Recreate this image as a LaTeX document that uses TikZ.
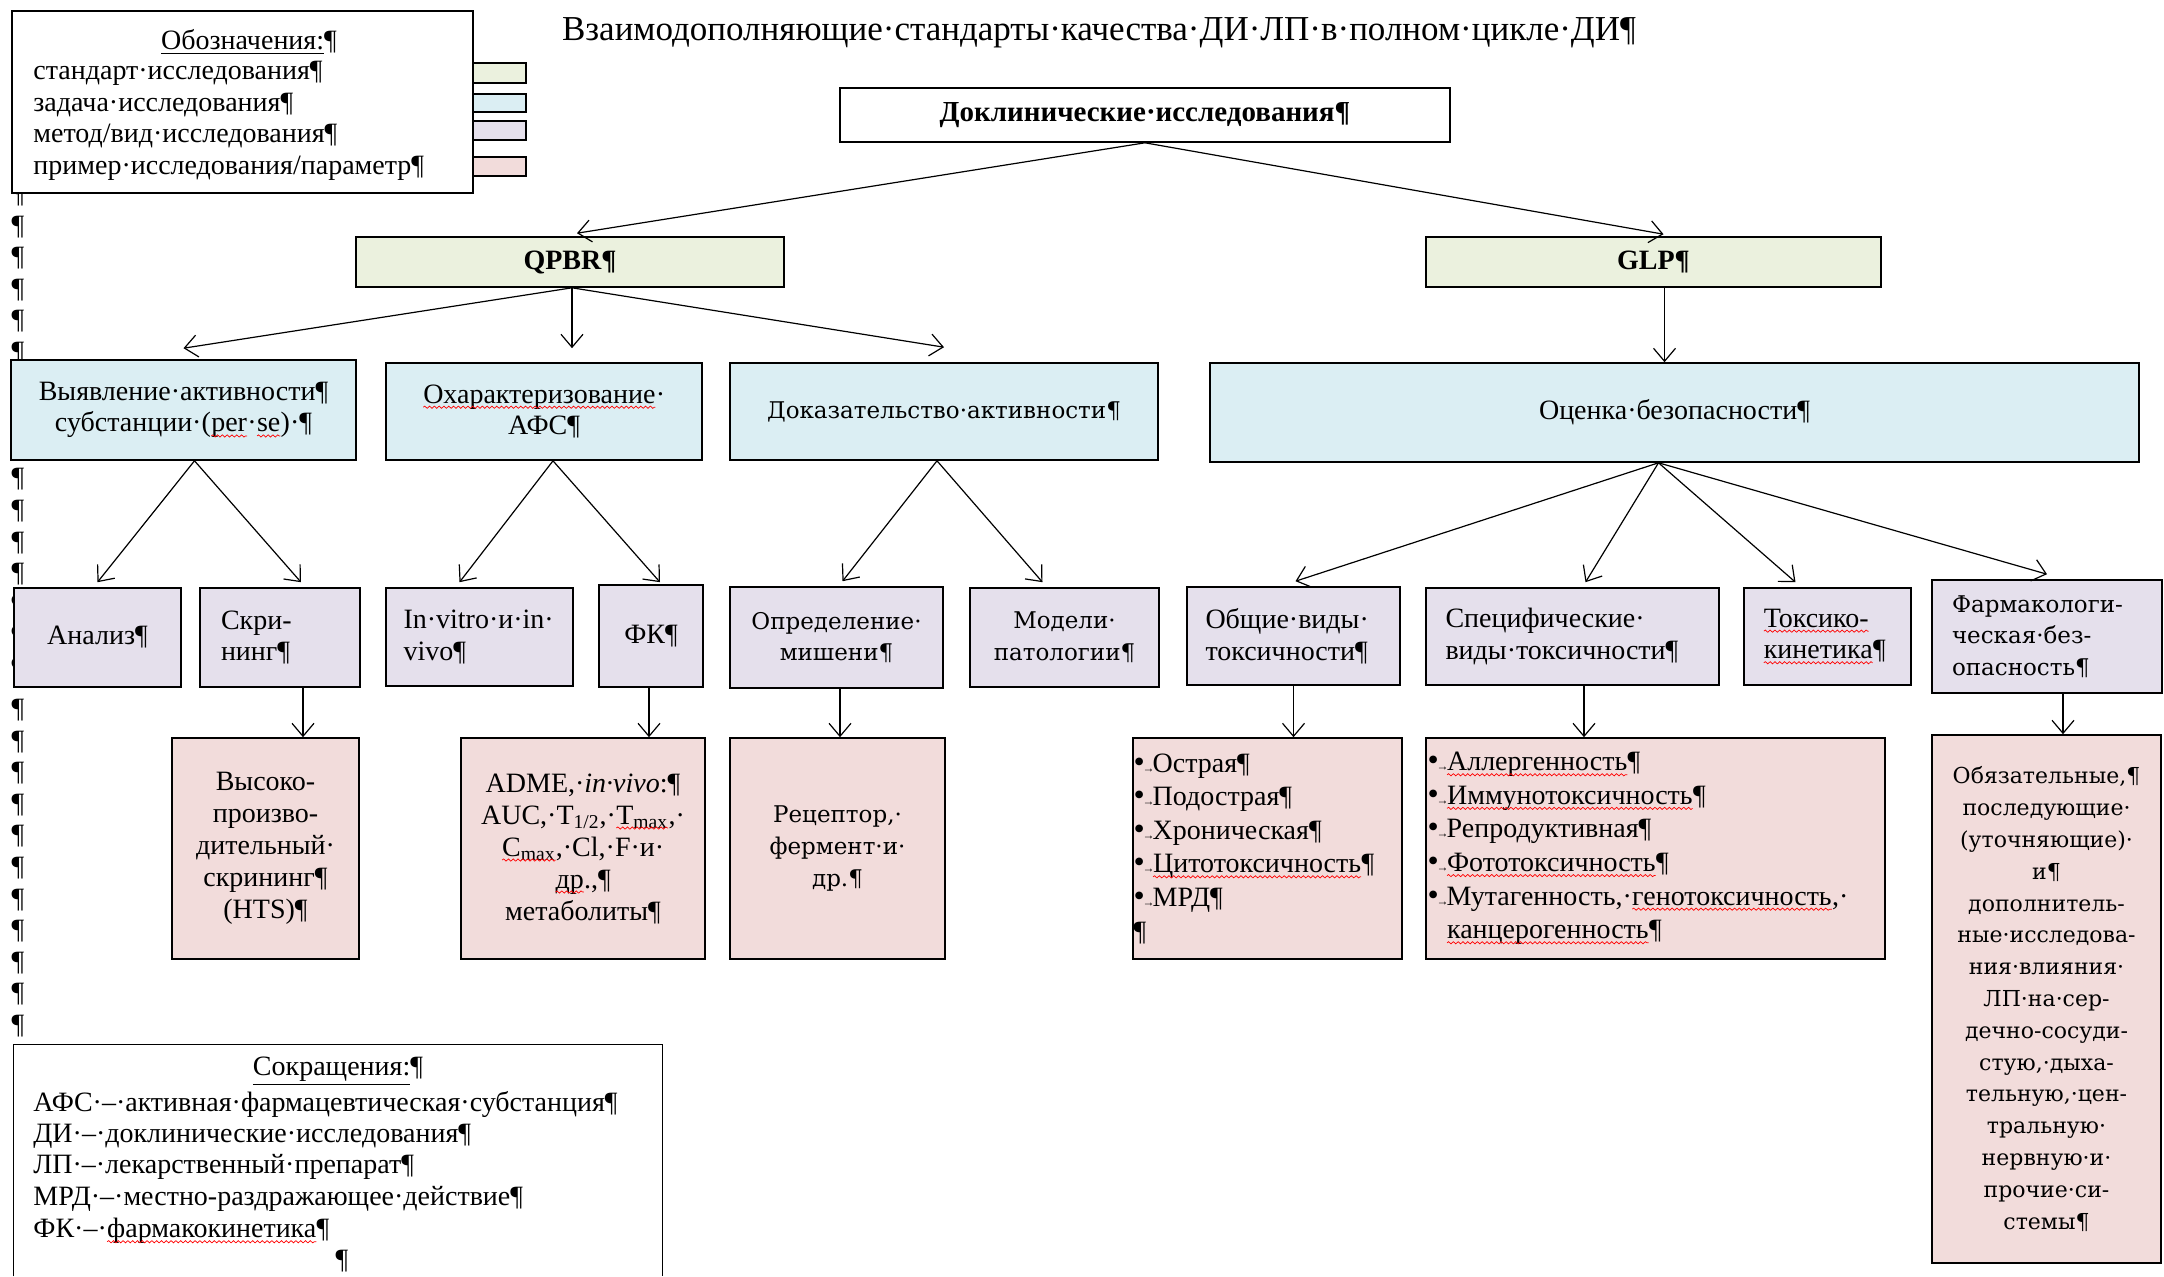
\documentclass[tikz,border=0pt]{standalone}
\usepackage{fontspec}
\setmainfont{Liberation Serif}
\newfontfamily\dvs{DejaVu Serif}
\usetikzlibrary{arrows.meta,calc,decorations.pathmorphing}
\newcommand\rwave[1]{\tikz[baseline=(rw.base),x=1pt,y=1pt]{\node[inner sep=0pt,outer sep=0pt,minimum width=0pt,minimum height=0pt,text width={},at={(0,0)},anchor=base,draw=none,fill=none](rw){#1};\draw[red,line width=0.35pt,decorate,decoration={snake,amplitude=0.55pt,segment length=2.4pt}] ([yshift=-2pt]rw.base west) -- ([yshift=-2pt]rw.base east);}}
\newcommand\bul{{\fontsize{16}{16}\selectfont •}\makebox[4pt][c]{\fontsize{6}{6}\selectfont →}}
\definecolor{cgreen}{HTML}{EBF1DE}
\definecolor{cblue}{HTML}{DBEEF3}
\definecolor{clav}{HTML}{E5E0EC}
\definecolor{cpink}{HTML}{F2DCDB}
\tikzset{
  rct/.style n args={4}{minimum width={(#3-#1)*0.5pt}, minimum height={(#4-#2)*0.5pt}, at={({(#1+#3)/2},{(#2+#4)/2})}},
  bx/.style={draw=black, line width=0.8pt, inner sep=0pt, align=center, font=\fontsize{14}{15.8}\selectfont},
  stdbox/.style={bx, fill=cgreen},
  taskbox/.style={bx, fill=cblue},
  methbox/.style={bx, fill=clav},
  exbox/.style={bx, fill=cpink},
  txt/.style={inner sep=0pt, align=left, font=\fontsize{14}{15.8}\selectfont},
  dv/.style={font=\dvs\fontsize{11.5}{15.8}\selectfont},
  arr/.style={-{Straight Barb[length=6.5pt,width=11pt]}, line width=0.6pt},
  pil/.style={inner sep=0pt, font=\fontsize{14}{15.8}\selectfont},
}
\begin{document}
\begin{tikzpicture}[x=0.5pt,y=-0.5pt]
\useasboundingbox (0,0) rectangle (2164,1276);

% column of paragraph marks at the left margin
\foreach \yy [count=\i] in {195,226.6,258.2,289.8,321.4,353,384.6,416.2,447.8,479.4,511,542.6,574.2,605.8,637.4,669}
  \node[pil] (pa\i) at (18,\yy) {¶};
\foreach \yy [count=\i] in {710,741.6,773.2,804.8,836.4,868,899.6,931.2,962.8,994.4,1026}
  \node[pil] (pb\i) at (18,\yy) {¶};

% title
\node[inner sep=0pt, font=\fontsize{17.5}{20}\selectfont] (title) at (1099,33) {Взаимодополняющие·стандарты·качества·ДИ·ЛП·в·полном·цикле·ДИ¶};

% legend
\node[bx, fill=white, rct={12}{11}{473}{193}] (legend) {};
\node[txt] (lgh) at (249,42) {\underline{Обозначения:}¶};
\node[txt, anchor=west] (lg1) at (33,73) {стандарт·исследования¶};
\node[txt, anchor=west] (lg2) at (33,105) {задача·исследования¶};
\node[txt, anchor=west] (lg3) at (33,136) {метод/вид·исследования¶};
\node[txt, anchor=west] (lg4) at (33,168) {пример·исследования/параметр¶};
\node[stdbox, rct={473}{63}{526}{83}] (sw1) {};
\node[taskbox, rct={473}{94}{526}{112}] (sw2) {};
\node[methbox, rct={473}{121}{526}{140}] (sw3) {};
\node[exbox, rct={473}{157}{526}{176}] (sw4) {};

% level 0 and 1
\node[bx, fill=white, rct={840}{88}{1450}{142}, font=\bfseries\fontsize{14.5}{16}\selectfont] (dokl) {Доклинические·исследования¶};
\node[stdbox, rct={356}{237}{784}{287}, font=\bfseries\fontsize{14}{16}\selectfont] (qpbr) {QPBR¶};
\node[stdbox, rct={1426}{237}{1881}{287}, font=\bfseries\fontsize{14}{16}\selectfont] (glp) {GLP¶};

% level 2
\node[taskbox, rct={11}{360}{356}{460}] (vyyav) {Выявление·активности¶\\субстанции·(\rwave{per}·\rwave{se})·¶};
\node[taskbox, rct={386}{363}{702}{460}] (ohar) {\rwave{Охарактеризование}·\\АФС¶};
\node[taskbox, rct={730}{363}{1158}{460}, dv] (dokaz) {Доказательство·активности¶};
\node[taskbox, rct={1210}{363}{2139}{462}] (ocen) {Оценка·безопасности¶};

% level 3
\node[methbox, rct={14}{588}{181}{687}] (analiz) {Анализ¶};
\node[methbox, rct={200}{588}{360}{687}, text width=59pt, align=left] (skrin) {Скри-\\нинг¶};
\node[methbox, rct={386}{588}{573}{686}, text width=76pt, align=left] (invitro) {In·vitro·и·in·\\vivo¶};
\node[methbox, rct={599}{585}{703}{687}] (fk) {ФК¶};
\node[methbox, rct={730}{587}{943}{688}, dv] (opred) {Определение·\\мишени¶};
\node[methbox, rct={970}{588}{1159}{687}, dv] (modeli) {Модели·\\патологии¶};
\node[methbox, rct={1187}{587}{1400}{685}, text width=88pt, align=left] (obsh) {Общие·виды·\\токсичности¶};
\node[methbox, rct={1426}{588}{1719}{685}, text width=127pt, align=left] (spec) {Специфические·\\виды·токсичности¶};
\node[methbox, rct={1744}{588}{1911}{685}, text width=64pt, align=left] (toks) {\rwave{Токсико-}\\\rwave{кинетика}¶};
\node[methbox, rct={1932}{580}{2162}{693}, dv, text width=95pt, align=left] (farm) {Фармакологи-\\ческая·без-\\опасность¶};

% level 4
\node[exbox, rct={172}{738}{359}{959}, font=\fontsize{14}{16}\selectfont] (hts) {Высоко-\\произво-\\дительный·\\скрининг¶\\(HTS)¶};
\node[exbox, rct={461}{738}{705}{959}, font=\fontsize{14}{16}\selectfont] (adme) {ADME,·\textit{in·vivo}:¶\\AUC,·T\textsubscript{1/2},·\rwave{T\textsubscript{max}},·\\\rwave{C\textsubscript{max}},·Cl,·F·и·\\\rwave{др}.,¶\\метаболиты¶};
\node[exbox, rct={730}{738}{945}{959}, font=\dvs\fontsize{11.5}{16}\selectfont] (recep) {Рецептор,·\\фермент·и·\\др.¶};
\node[exbox, rct={1133}{738}{1402}{959}, text width=134pt, align=left, font=\fontsize{14}{16.8}\selectfont] (ostr) {\bul Острая¶\\\bul Подострая¶\\\bul Хроническая¶\\\bul\rwave{Цитотоксичность}¶\\\bul МРД¶\\¶};
\node[exbox, rct={1426}{738}{1885}{959}, text width=228pt, align=left, font=\fontsize{14}{16.8}\selectfont] (allerg) {\bul\rwave{Аллергенность}¶\\\bul\rwave{Иммунотоксичность}¶\\\bul Репродуктивная¶\\\bul\rwave{Фототоксичность}¶\\\bul Мутагенность,·\rwave{генотоксичность},·\\\phantom{\bul}\rwave{канцерогенность}¶};
\node[exbox, rct={1932}{735}{2161}{1263}, font=\dvs\fontsize{11}{15.9}\selectfont] (obyaz) {Обязательные,¶\\последующие·\\(уточняющие)·\\и¶\\дополнитель-\\ные·исследова-\\ния·влияния·\\ЛП·на·сер-\\дечно-сосуди-\\стую,·дыха-\\тельную,·цен-\\тральную·\\нервную·и·\\прочие·си-\\стемы¶};

% abbreviations box (bottom edge cut by the page)
\node[rct={14}{1045}{662}{1276}, inner sep=0pt, fill=white] (abbr) {};
\draw[line width=0.8pt] (abbr.south west) -- (abbr.north west) -- (abbr.north east) -- (abbr.south east);
\node[txt] (abh) at (338,1071) {\underline{Сокращения:}¶};
\node[txt, anchor=west] (ab1) at (33,1104) {АФС·–·активная·фармацевтическая·субстанция¶};
\node[txt, anchor=west] (ab2) at (33,1136) {ДИ·–·доклинические·исследования¶};
\node[txt, anchor=west] (ab3) at (33,1167) {ЛП·–·лекарственный·препарат¶};
\node[txt, anchor=west] (ab4) at (33,1199) {МРД·–·местно-раздражающее·действие¶};
\node[txt, anchor=west] (ab5) at (33,1231) {ФК·–·\rwave{фармакокинетика}¶};
\node[txt] (ab6) at (342,1261) {¶};

% connectors
\draw[arr] (dokl.south) -- ([xshift=3.5pt,yshift=1.5pt]qpbr.north);
\draw[arr] (dokl.south) -- ([xshift=5pt,yshift=1pt]glp.north);
\draw[arr] ([xshift=1pt]qpbr.south) -- ([yshift=5.5pt]vyyav.north);
\draw[arr] ([xshift=1pt]qpbr.south) -- ([xshift=14pt,yshift=7pt]ohar.north);
\draw[arr] ([xshift=1pt]qpbr.south) -- ([yshift=7.5pt]dokaz.north);
\draw[arr] ([xshift=5.5pt]glp.south) -- ([xshift=5.5pt]glp.south |- ocen.north);
\draw[arr] ([xshift=5.5pt]vyyav.south) -- ([yshift=2.5pt]analiz.north);
\draw[arr] ([xshift=5.5pt]vyyav.south) -- ([xshift=10.5pt,yshift=2.5pt]skrin.north);
\draw[arr] ([xshift=4.5pt]ohar.south) -- ([xshift=-10pt,yshift=2.5pt]invitro.north);
\draw[arr] ([xshift=4.5pt]ohar.south) -- ([xshift=4.5pt,yshift=1pt]fk.north);
\draw[arr] ([xshift=11.5pt]skrin.south) -- ([xshift=11.5pt]skrin.south |- hts.north);
\draw[arr] ([xshift=-1pt]fk.south) -- ([xshift=-1pt]fk.south |- adme.north);
\draw[arr] ([xshift=-3.5pt]dokaz.south) -- ([xshift=3pt,yshift=2.5pt]opred.north);
\draw[arr] ([xshift=-3.5pt]dokaz.south) -- ([xshift=-11pt,yshift=2.5pt]modeli.north);
\draw[arr] ([xshift=1.75pt]opred.south) -- ([xshift=1.75pt]opred.south |- recep.north);
\draw[arr] ([xshift=-8pt]ocen.south) -- ([xshift=1pt,yshift=2.5pt]obsh.north);
\draw[arr] ([xshift=-8pt]ocen.south) -- ([xshift=6.5pt,yshift=2.5pt]spec.north);
\draw[arr] ([xshift=-8pt]ocen.south) -- ([xshift=-16pt,yshift=2.5pt]toks.north);
\draw[arr] ([xshift=-8pt]ocen.south) -- ([yshift=2.5pt]farm.north);
\draw[arr] (obsh.south) -- (obsh.south |- ostr.north);
\draw[arr] ([xshift=5.75pt]spec.south) -- ([xshift=5.75pt]spec.south |- allerg.north);
\draw[arr] ([xshift=8pt]farm.south) -- ([xshift=8pt]farm.south |- obyaz.north);
\end{tikzpicture}
\end{document}
